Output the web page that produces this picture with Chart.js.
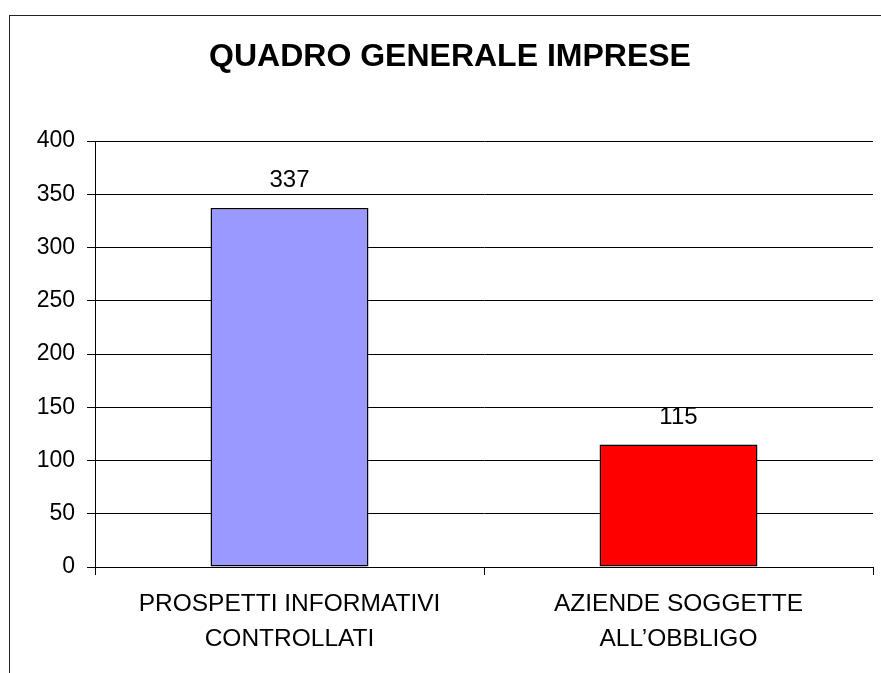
<!DOCTYPE html>
<html>
<head>
<meta charset="utf-8">
<script src="https://cdn.jsdelivr.net/npm/chart.js@4/dist/chart.umd.min.js"></script>
<style>
  html, body { margin: 0; padding: 0; background: #ffffff; overflow: hidden; }
  #frame { position: absolute; left: 9px; top: 15px; width: 1000px; height: 1000px;
           border-left: 1px solid #222; border-top: 1px solid #222; }
  #c { position: absolute; left: 0; top: 0; }
</style>
</head>
<body>
<div id="frame"></div>
<canvas id="c" width="881" height="673"></canvas>
<script>
const chartTitle = 'QUADRO GENERALE IMPRESE';
const categories = [
  ['PROSPETTI INFORMATIVI', 'CONTROLLATI'],
  ['AZIENDE SOGGETTE', 'ALL\u2019OBBLIGO']
];
const values = [337, 115];
const barColors = ['#9999FF', '#FF0000'];
const yTicks = [0, 50, 100, 150, 200, 250, 300, 350, 400];

const FONT = "'Liberation Sans', Arial, sans-serif";

const valueLabels = {
  id: 'valueLabels',
  afterDatasetsDraw(chart) {
    const ctx = chart.ctx;
    const meta = chart.getDatasetMeta(0);
    ctx.save();
    ctx.fillStyle = '#000';
    ctx.font = '24px ' + FONT;
    ctx.textAlign = 'center';
    ctx.textBaseline = 'alphabetic';
    meta.data.forEach((bar, i) => {
      ctx.fillText(String(chart.data.datasets[0].data[i]), bar.x, bar.y - 21);
    });
    ctx.restore();
  }
};

new Chart(document.getElementById('c'), {
  type: 'bar',
  data: {
    labels: categories,
    datasets: [{
      data: values,
      backgroundColor: barColors,
      borderColor: '#000',
      borderWidth: 1.5,
      borderSkipped: false,
      categoryPercentage: 1,
      barPercentage: 0.406
    }]
  },
  options: {
    responsive: false,
    animation: false,
    devicePixelRatio: 1,
    layout: { padding: { left: 27, right: 8, top: 0, bottom: 0 } },
    plugins: {
      legend: { display: false },
      tooltip: { enabled: false },
      title: {
        display: true,
        text: chartTitle,
        color: '#000',
        font: { family: FONT, size: 32, weight: 'bold', lineHeight: 1.2 },
        padding: { top: 37.8, bottom: 64.8 }
      }
    },
    scales: {
      x: {
        offset: true,
        grid: { display: true, drawOnChartArea: false, drawTicks: true, tickLength: 8, color: '#000', offset: true },
        border: { display: false },
        ticks: { color: '#000', font: { family: FONT, size: 24.5, lineHeight: 1.4 }, padding: 12.3, maxRotation: 0, autoSkip: false },
        afterFit(scale) { scale.height = 106; }
      },
      y: {
        min: 0,
        max: 400,
        afterBuildTicks(scale) { scale.ticks = yTicks.map(v => ({ value: v })); },
        grid: { color: '#000', drawTicks: true, tickLength: 8 },
        border: { display: true, color: '#000' },
        ticks: { color: '#000', font: { family: FONT, size: 23 }, padding: 12 },
        afterFit(scale) { scale.width = 68; }
      }
    }
  },
  plugins: [valueLabels]
});
</script>
</body>
</html>
